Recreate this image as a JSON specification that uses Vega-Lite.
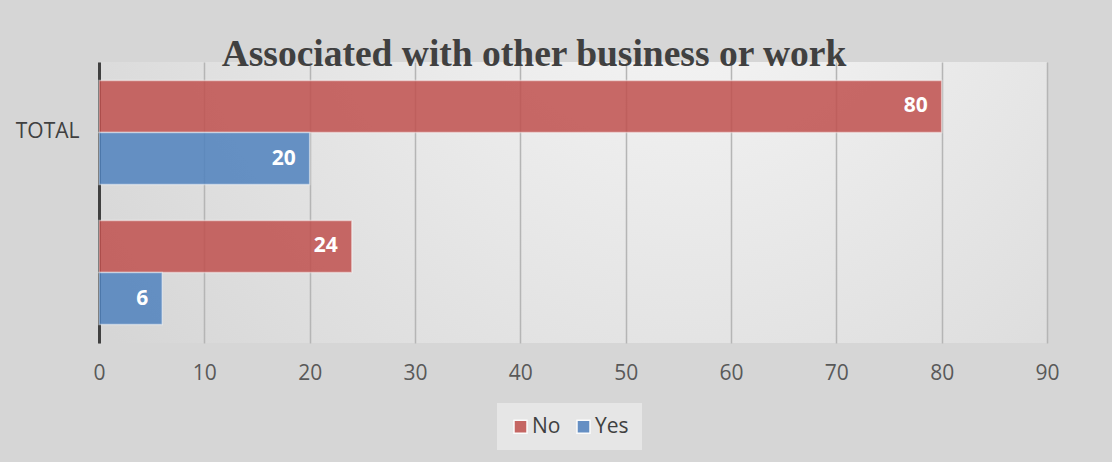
{
  "$schema": "https://vega.github.io/schema/vega-lite/v6.json",
  "width": 948,
  "height": 281,
  "autosize": "none",
  "padding": {"left": 99, "top": 62, "right": 65, "bottom": 119},
  "background": "#d6d6d6",
  "title": {
    "text": "Associated with other business or work",
    "font": "Liberation Serif",
    "fontSize": 37.5,
    "fontWeight": "bold",
    "color": "#404040",
    "anchor": "middle",
    "frame": "group",
    "baseline": "alphabetic",
    "dx": -39,
    "offset": -41
  },
  "config": {
    "view": {
      "stroke": null,
      "fill": {
        "gradient": "radial",
        "x1": 0.62, "y1": 0.2, "r1": 0,
        "x2": 0.62, "y2": 0.2, "r2": 0.75,
        "stops": [
          {"offset": 0, "color": "#f8f8f8"},
          {"offset": 1, "color": "#d6d6d6"}
        ]
      }
    }
  },
  "data": {
    "values": [
      {"category": "TOTAL", "series": "No", "value": 80},
      {"category": "TOTAL", "series": "Yes", "value": 20},
      {"category": " ", "series": "No", "value": 24},
      {"category": " ", "series": "Yes", "value": 6}
    ]
  },
  "encoding": {
    "y": {
      "field": "category",
      "type": "nominal",
      "sort": ["TOTAL", " "],
      "scale": {"paddingInner": 0.257, "paddingOuter": 0.132},
      "axis": {
        "title": null,
        "ticks": false,
        "domainColor": "#404040",
        "domainWidth": 3,
        "labelFont": "Open Sans",
        "labelFontSize": 21,
        "labelColor": "#404040",
        "labelPadding": 20
      }
    },
    "yOffset": {
      "field": "series",
      "type": "nominal",
      "sort": ["No", "Yes"],
      "scale": {"paddingInner": 0, "paddingOuter": 0}
    },
    "x": {
      "field": "value",
      "type": "quantitative",
      "scale": {"domain": [0, 90]},
      "axis": {
        "title": null,
        "values": [0, 10, 20, 30, 40, 50, 60, 70, 80, 90],
        "domain": false,
        "ticks": false,
        "grid": true,
        "gridColor": "#b5b5b5",
        "gridWidth": 1.5,
        "labelFlush": false,
        "labelFont": "Open Sans",
        "labelFontSize": 21,
        "labelColor": "#595959",
        "labelPadding": 19
      }
    }
  },
  "layer": [
    {
      "mark": {
        "type": "bar",
        "fillOpacity": 0.85,
        "stroke": "#ffffff",
        "strokeOpacity": 0.45,
        "strokeWidth": 1.5
      },
      "encoding": {
        "color": {
          "field": "series",
          "type": "nominal",
          "scale": {"domain": ["No", "Yes"], "range": ["#C0504D", "#4F81BD"]},
          "legend": {
            "title": null,
            "orient": "none",
            "legendX": 398,
            "legendY": 341,
            "direction": "horizontal",
            "symbolType": "square",
            "symbolSize": 170,
            "symbolOpacity": 0.85,
            "labelFont": "Open Sans",
            "labelFontSize": 21,
            "labelColor": "#404040",
            "labelOffset": 1,
            "fillColor": "#e6e6e6",
            "padding": 13,
            "columnPadding": 12
          }
        }
      }
    },
    {
      "mark": {
        "type": "text",
        "align": "right",
        "baseline": "middle",
        "dx": -14,
        "color": "#ffffff",
        "font": "Open Sans",
        "fontWeight": "bold",
        "fontSize": 21
      },
      "encoding": {
        "text": {"field": "value", "type": "quantitative"}
      }
    }
  ]
}
